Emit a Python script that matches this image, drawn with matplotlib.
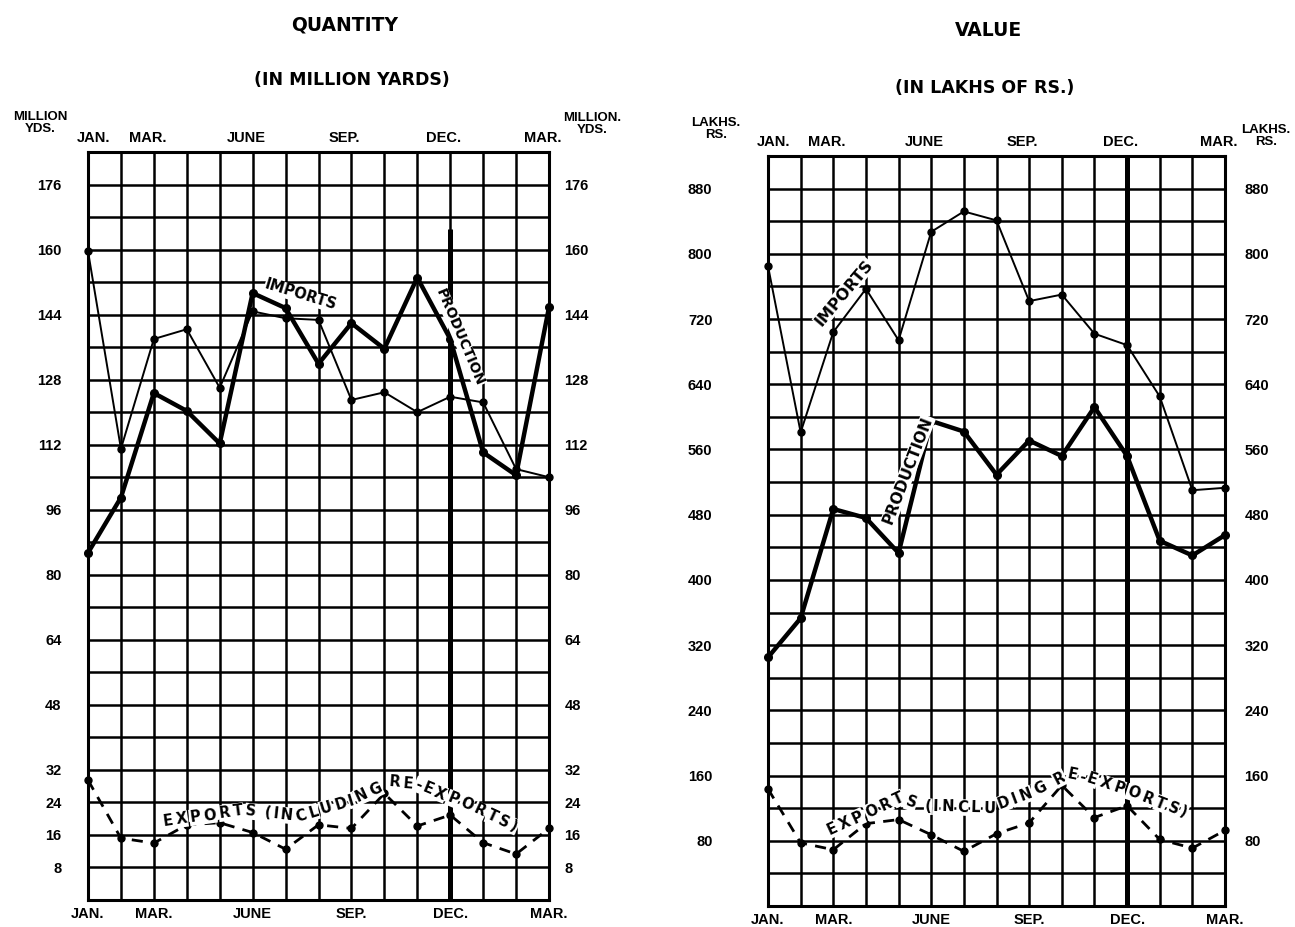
import numpy as np
import matplotlib
matplotlib.use("Agg")
import matplotlib.pyplot as plt

# months Jan .. Dec, Jan, Feb, Mar (15 monthly points)
months = ['JAN', 'FEB', 'MAR', 'APR', 'MAY', 'JUN', 'JUL', 'AUG', 'SEP',
          'OCT', 'NOV', 'DEC', 'JAN', 'FEB', 'MAR']
month_tick_idx = [0, 2, 5, 8, 11, 14]
month_tick_labels = ['JAN.', 'MAR.', 'JUNE', 'SEP.', 'DEC.', 'MAR.']

# quantity, million yards
imports_qty = [159.6, 111, 138, 140.4, 126, 144.8, 143.1, 142.7, 123, 124.9,
               120, 123.8, 122.4, 106, 104]
production_qty = [85.4, 99, 124.7, 120.3, 112.3, 149.3, 145.6, 131.9, 141.9,
                  135.6, 153.1, 138, 110.1, 104.5, 145.8]
exports_qty = [29.5, 15.2, 14, 18.5, 19, 16.6, 12.5, 18.5, 17.6, 26.2, 18.2,
               20.9, 14.1, 11.3, 17.6]
qty_ticks = [8, 16, 24, 32, 48, 64, 80, 96, 112, 128, 144, 160, 176]

# value, lakhs of rupees
imports_val = [785, 581, 704, 757, 694, 827, 852, 841, 742, 750, 702, 688,
               625, 510, 513]
production_val = [305, 353, 487, 476, 433, 595, 582, 529, 571, 552, 612, 552,
                  448, 430, 455]
exports_val = [143.6, 77.5, 69, 101, 106, 87.4, 67, 88.7, 102, 148, 108.5,
               123, 81.6, 71, 92.8]
val_ticks = [80, 160, 240, 320, 400, 480, 560, 640, 720, 800, 880]

plt.rcParams['font.family'] = ['Liberation Sans', 'DejaVu Sans']
plt.rcParams['font.weight'] = 'bold'

W, H = 1295, 927
fig = plt.figure(figsize=(W / 100, H / 100), dpi=100)


def px_axes(x0, y0, x1, y1):
    # axes box from pixel corners (top-left origin)
    return fig.add_axes([x0 / W, 1 - y1 / H, (x1 - x0) / W, (y1 - y0) / H])


def draw_panel(ax, ymax, step, ticks, imports, production, exports,
               lpad, rpad, dec_top):
    x = np.arange(len(months))
    ax.set_xlim(0, len(months) - 1)
    ax.set_ylim(0, ymax)
    for i in x:
        ax.axvline(i, color='black', lw=1.8, zorder=1)
    for v in np.arange(step, ymax, step):
        ax.axhline(v, color='black', lw=1.8, zorder=1)
    # heavy line at December
    ax.plot([11, 11], [0, dec_top], color='black', lw=3.6, zorder=1,
            solid_capstyle='butt')
    for s in ax.spines.values():
        s.set_linewidth(2.2)

    ax.plot(x, imports, color='black', lw=1.4, marker='o', ms=5,
            clip_on=False, zorder=3)
    ax.plot(x, production, color='black', lw=3.2, marker='o', ms=5.5,
            clip_on=False, zorder=3)
    ax.plot(x, exports, color='black', lw=2, ls=(0, (4, 3)), marker='o',
            ms=5, clip_on=False, zorder=3)

    ax.set_xticks(month_tick_idx, month_tick_labels)
    ax.tick_params(axis='x', length=0, pad=5, labelsize=10.5)
    # top month labels are printed a little left of their lines (JAN. right)
    top = ax.secondary_xaxis('top', functions=(lambda v: v + 0.2,
                                               lambda v: v - 0.2))
    top_pos = list(month_tick_idx)
    top_pos[0] = 0.38
    top.set_xticks(top_pos, month_tick_labels)
    top.tick_params(length=0, pad=5, labelsize=10.5)
    top.spines['top'].set_visible(False)

    ax.set_yticks(ticks, [str(t) for t in ticks])
    ax.tick_params(axis='y', length=0, pad=lpad, labelsize=10.5)
    sec = ax.secondary_yaxis('right')
    sec.set_yticks(ticks, [str(t) for t in ticks])
    sec.tick_params(length=0, pad=rpad, labelsize=10.5)
    sec.spines['right'].set_visible(False)


def text_on_path(ax, s, xs, ys, size):
    # lay characters along a polyline (data coords), spaced by glyph width
    renderer = fig.canvas.get_renderer()
    style = dict(fontsize=size, family='DejaVu Sans', fontweight='bold')
    widths = []
    for ch in s:
        t = ax.text(0, 0, ch if ch != ' ' else 'i', **style)
        widths.append(t.get_window_extent(renderer).width)
        t.remove()
    widths = np.array(widths)
    pts = ax.transData.transform(np.column_stack([xs, ys]))
    seg = np.hypot(np.diff(pts[:, 0]), np.diff(pts[:, 1]))
    cum = np.concatenate([[0], np.cumsum(seg)])
    scale = cum[-1] / widths.sum()
    centers = (np.cumsum(widths) - widths / 2) * scale
    inv = ax.transData.inverted()
    for ch, d in zip(s, centers):
        if ch == ' ':
            continue
        px = np.interp(d, cum, pts[:, 0])
        py = np.interp(d, cum, pts[:, 1])
        k = min(np.searchsorted(cum, d, side='right') - 1, len(seg) - 1)
        ang = np.degrees(np.arctan2(pts[k + 1, 1] - pts[k, 1],
                                    pts[k + 1, 0] - pts[k, 0]))
        dx, dy = inv.transform((px, py))
        ax.text(dx, dy, ch, rotation=ang, ha='center', va='center',
                rotation_mode='anchor', zorder=4,
                bbox=dict(fc='white', ec='none', pad=0.5), **style)


axq = px_axes(88, 152, 549, 900)
axv = px_axes(768, 156, 1225, 906)

draw_panel(axq, 184, 8, qty_ticks, imports_qty, production_qty, exports_qty,
           lpad=19, rpad=11, dec_top=165)
draw_panel(axv, 920, 40, val_ticks, imports_val, production_val, exports_val,
           lpad=40, rpad=14, dec_top=920)

# line labels
lab = dict(family='DejaVu Sans', fontweight='bold', ha='center', va='center',
           zorder=4, bbox=dict(fc='white', ec='none', pad=0.3))
axq.text(6.47, 148.8, 'IMPORTS', rotation=-17, fontsize=10.5, **lab)
axq.text(11.3, 138.5, 'PRODUCTION', rotation=-67, fontsize=10, **lab)
axv.text(2.33, 752, 'IMPORTS', rotation=50, fontsize=11.5, **lab)
axv.text(4.29, 535, 'PRODUCTION', rotation=69, fontsize=11, **lab)

text_on_path(axq, 'EXPORTS (INCLUDING RE-EXPORTS)',
             [2.25, 4.7, 6.4, 8.0, 9.2, 10.0, 11.5, 13.05],
             [19.2, 22, 20.5, 24.5, 29, 28.5, 23.5, 17.7], 10.5)
text_on_path(axv, 'EXPORTS (INCLUDING RE-EXPORTS)',
             [1.8, 4.0, 4.75, 6.8, 8.2, 9.2, 9.8, 11.25, 12.85],
             [91, 132, 122, 120, 141, 162, 157, 138, 113], 10.5)

# titles and corner labels
title = dict(family='DejaVu Sans', fontweight='bold', ha='center',
             va='center')
fig.text(345 / W, 1 - 25 / H, 'QUANTITY', fontsize=13.5, **title)
fig.text(352 / W, 1 - 80 / H, '(IN MILLION YARDS)', fontsize=12.5, **title)
fig.text(988 / W, 1 - 30 / H, 'VALUE', fontsize=13.5, **title)
fig.text(985 / W, 1 - 88 / H, '(IN LAKHS OF RS.)', fontsize=12.5, **title)

corner = dict(ha='center', va='center', fontsize=9.5, linespacing=0.95)
fig.text(40 / W, 1 - 123 / H, 'MILLION\nYDS.', **corner)
fig.text(592 / W, 1 - 124 / H, 'MILLION.\nYDS.', **corner)
fig.text(716 / W, 1 - 129 / H, 'LAKHS.\nRS.', **corner)
fig.text(1266 / W, 1 - 136 / H, 'LAKHS.\nRS.', **corner)

fig.savefig('out.png', dpi=100, facecolor='white')
